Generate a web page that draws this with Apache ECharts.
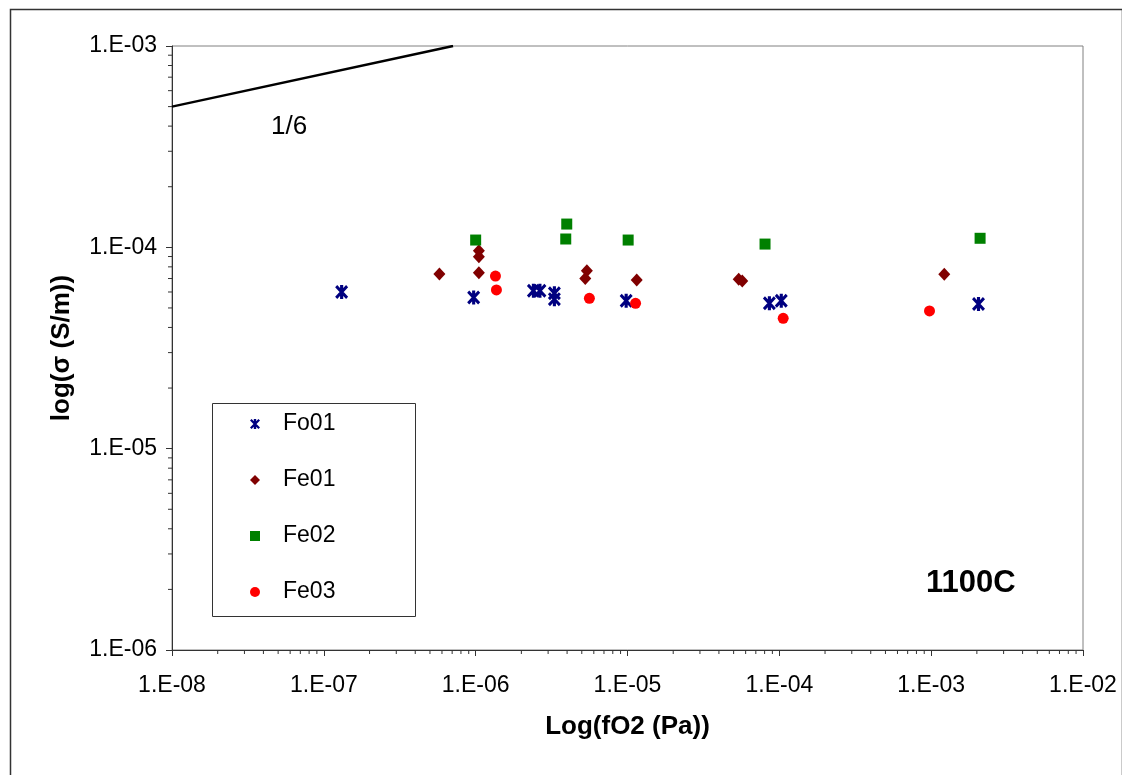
<!DOCTYPE html>
<html>
<head>
<meta charset="utf-8">
<script src="https://cdn.jsdelivr.net/npm/echarts@6/dist/echarts.min.js"></script>
<style>
html,body{margin:0;padding:0;background:#fff;}
#chart{width:1122px;height:775px;}
</style>
</head>
<body>
<div id="chart"></div>
<script>
// ---- data ----
const FO01_X = [1.31e-7, 9.7e-7, 2.40e-6, 2.65e-6, 3.3e-6, 3.3e-6, 9.8e-6, 8.6e-5, 1.03e-4, 2.05e-3];
const FO01_Y = [6.0e-5, 5.64e-5, 6.09e-5, 6.09e-5, 5.91e-5, 5.53e-5, 5.43e-5, 5.27e-5, 5.43e-5, 5.23e-5];
const FE01_X = [5.77e-7, 1.05e-6, 1.05e-6, 1.05e-6, 5.4e-6, 5.27e-6, 1.15e-5, 5.4e-5, 5.7e-5, 1.22e-3];
const FE01_Y = [7.37e-5, 9.62e-5, 8.98e-5, 7.48e-5, 7.65e-5, 7.01e-5, 6.88e-5, 6.95e-5, 6.8e-5, 7.35e-5];
const FE02_X = [1.0e-6, 3.98e-6, 3.92e-6, 1.01e-5, 8.05e-5, 2.10e-3];
const FE02_Y = [1.087e-4, 1.305e-4, 1.10e-4, 1.087e-4, 1.038e-4, 1.109e-4];
const FE03_X = [1.35e-6, 1.37e-6, 5.61e-6, 1.13e-5, 1.06e-4, 9.75e-4];
const FE03_Y = [7.20e-5, 6.14e-5, 5.58e-5, 5.27e-5, 4.44e-5, 4.83e-5];
const SLOPE_X = [1e-8, 7.1e-7];
const SLOPE_Y = [5e-4, 1e-3];
const SERIES_NAMES = ['Fo01', 'Fe01', 'Fe02', 'Fe03'];
const X_TICK_LABELS = ['1.E-08', '1.E-07', '1.E-06', '1.E-05', '1.E-04', '1.E-03', '1.E-02'];
const Y_TICK_LABELS = ['1.E-06', '1.E-05', '1.E-04', '1.E-03'];
const X_EXP_MIN = -8, X_EXP_MAX = -2;
const Y_EXP_MIN = -6, Y_EXP_MAX = -3;
const MINOR_MULT = [2, 3, 4, 5, 6, 7, 8, 9];

// ---- helpers ----
const zip = (xs, ys) => xs.map((x, i) => [x, ys[i]]);
const FONT = "'Liberation Sans', Arial, Helvetica, sans-serif";
const ASTER = 'path://M3.8,0L6.2,0L6.2,10L3.8,10Z M1.6,0L10,8.4L8.4,10L0,1.6Z M8.4,0L10,1.6L1.6,10L0,8.4Z';

const xMinor = [];
for (let e = X_EXP_MIN; e < X_EXP_MAX; e++) MINOR_MULT.forEach(k => xMinor.push([k * Math.pow(10, e), Math.pow(10, Y_EXP_MIN)]));
const yMinor = [];
for (let e = Y_EXP_MIN; e < Y_EXP_MAX; e++) MINOR_MULT.forEach(k => yMinor.push([Math.pow(10, X_EXP_MIN), k * Math.pow(10, e)]));

function labelFor(v, labels, expMin) {
  const e = Math.round(Math.log10(v));
  return labels[e - expMin] || '';
}

const chart = echarts.init(document.getElementById('chart'), null, {renderer: 'canvas'});
chart.setOption({
  animation: false,
  backgroundColor: '#fff',
  textStyle: {fontFamily: FONT},
  grid: {left: 172, top: 46, right: 39, bottom: 125, show: true, borderColor: '#808080', borderWidth: 1, backgroundColor: '#fff'},
  xAxis: {
    type: 'log', logBase: 10, min: 1e-8, max: 1e-2, splitNumber: 6,
    name: 'Log(fO2 (Pa))', nameLocation: 'middle', nameGap: 64,
    nameTextStyle: {fontFamily: FONT, fontSize: 26, fontWeight: 'bold', color: '#000'},
    axisLine: {show: true, lineStyle: {color: '#333', width: 1}},
    axisTick: {show: true, inside: false, length: 6, lineStyle: {color: '#333'}},
    splitLine: {show: false},
    axisLabel: {margin: 24, fontSize: 23, color: '#000', fontFamily: FONT,
      formatter: v => labelFor(v, X_TICK_LABELS, X_EXP_MIN)}
  },
  yAxis: {
    type: 'log', logBase: 10, min: 1e-6, max: 1e-3, splitNumber: 3,
    name: 'log(σ (S/m))', nameLocation: 'middle', nameGap: 97,
    nameTextStyle: {fontFamily: FONT, fontSize: 26, fontWeight: 'bold', color: '#000'},
    axisLine: {show: true, lineStyle: {color: '#333', width: 1}},
    axisTick: {show: true, inside: false, length: 6, lineStyle: {color: '#333'}},
    splitLine: {show: false},
    axisLabel: {margin: 15, fontSize: 23, color: '#000', fontFamily: FONT,
      formatter: v => labelFor(v, Y_TICK_LABELS, Y_EXP_MIN)}
  },
  legend: {
    orient: 'vertical', left: 245, top: 407, itemGap: 32,
    itemWidth: 10, itemHeight: 10,
    data: SERIES_NAMES,
    textStyle: {fontSize: 23, color: '#000', fontFamily: FONT, lineHeight: 24, padding: [0, 0, 0, 18]}
  },
  graphic: [
    {type: 'rect', left: 8, top: 7, silent: true, z: -10,
      shape: {width: 1112, height: 800}, style: {fill: 'none', stroke: '#333', lineWidth: 1.5}},
    {type: 'rect', left: 212, top: 403, silent: true, z: 0,
      shape: {width: 203, height: 213}, style: {fill: '#fff', stroke: '#333', lineWidth: 1}},
    {type: 'text', left: 271, top: 114, silent: true,
      style: {text: '1/6', font: '26px ' + FONT, fill: '#000'}},
    {type: 'text', left: 926, top: 568, silent: true,
      style: {text: '1100C', font: 'bold 31px ' + FONT, fill: '#000'}}
  ],
  series: [
    {name: 'slope', type: 'line', data: zip(SLOPE_X, SLOPE_Y), showSymbol: false, symbol: 'none',
      lineStyle: {color: '#000', width: 2.5}, itemStyle: {color: '#000'}, silent: true, z: 3},
    {name: 'Fo01', type: 'scatter', data: zip(FO01_X, FO01_Y), symbol: ASTER, symbolSize: [13, 14],
      itemStyle: {color: '#000080', opacity: 1}, z: 5},
    {name: 'Fe01', type: 'scatter', data: zip(FE01_X, FE01_Y), symbol: 'diamond', symbolSize: [12, 13],
      itemStyle: {color: '#800000', opacity: 1}, z: 5},
    {name: 'Fe02', type: 'scatter', data: zip(FE02_X, FE02_Y), symbol: 'rect', symbolSize: 11,
      itemStyle: {color: '#008000', opacity: 1}, z: 5},
    {name: 'Fe03', type: 'scatter', data: zip(FE03_X, FE03_Y), symbol: 'circle', symbolSize: 11,
      itemStyle: {color: '#ff0000', opacity: 1}, z: 5},
    {name: 'xminor', type: 'custom', data: xMinor, clip: false, silent: true, z: 4,
      renderItem: (params, api) => {
        const p = api.coord([api.value(0), api.value(1)]);
        return {type: 'line', shape: {x1: p[0], y1: p[1], x2: p[0], y2: p[1] + 4}, style: {stroke: '#333', lineWidth: 1}};
      }},
    {name: 'yminor', type: 'custom', data: yMinor, clip: false, silent: true, z: 4,
      renderItem: (params, api) => {
        const p = api.coord([api.value(0), api.value(1)]);
        return {type: 'line', shape: {x1: p[0] - 4, y1: p[1], x2: p[0], y2: p[1]}, style: {stroke: '#333', lineWidth: 1}};
      }}
  ]
});
</script>
</body>
</html>
